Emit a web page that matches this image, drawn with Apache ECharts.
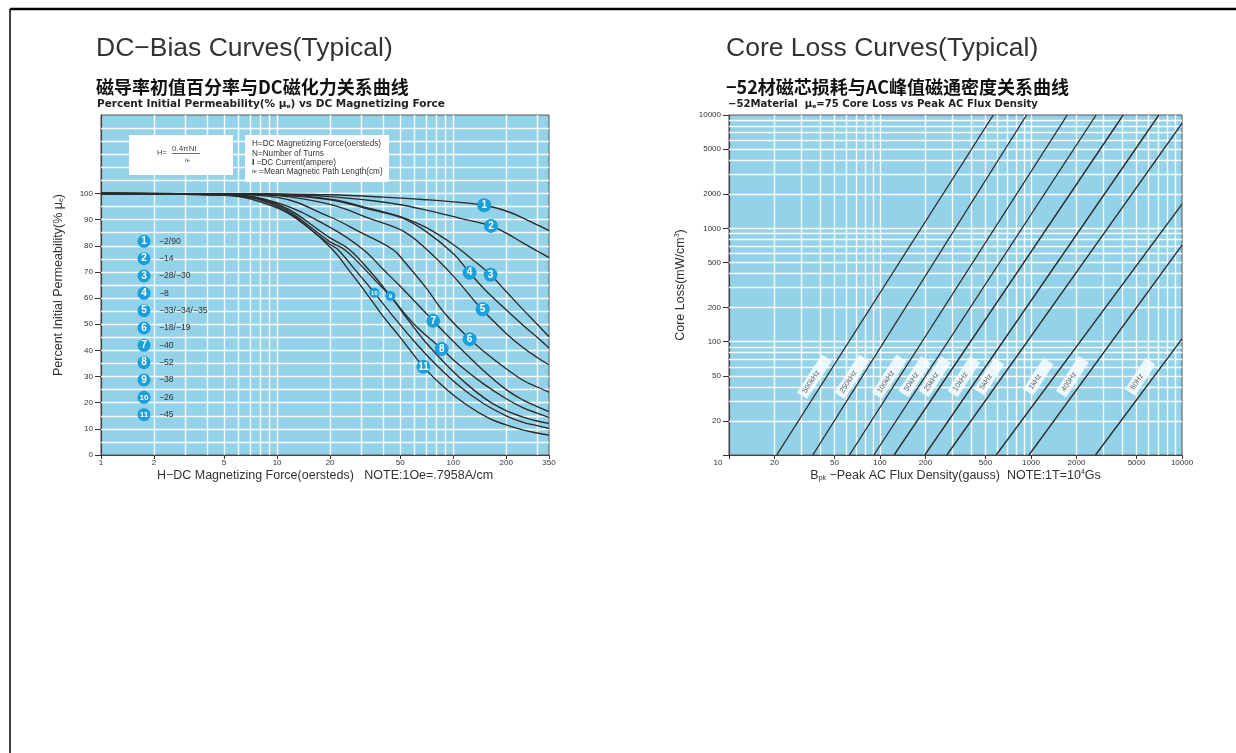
<!DOCTYPE html>
<html><head><meta charset="utf-8">
<script src="https://cdn.jsdelivr.net/npm/echarts@6/dist/echarts.min.js"></script>
<style>html,body{margin:0;padding:0;background:#fff;}#c{width:1236px;height:753px;}</style>
</head><body><div id="c"></div>
<script>
// ---------- DC-bias chart data ----------
const dcXTicks = [1, 2, 5, 10, 20, 50, 100, 200, 350];
const dcYTicks = [0, 10, 20, 30, 40, 50, 60, 70, 80, 90, 100];
const materials = ['\u22122/90', '\u221214', '\u221228/\u221230', '\u22128', '\u221233/\u221234/\u221235', '\u221218/\u221219', '\u221240', '\u221252', '\u221238', '\u221226', '\u221245'];
const curve1 = [[1,100],[5,99.9],[10,99.8],[20,99.5],[40,98.6],[70,97.6],[100,96.8],[150,95.5],[200,93.3],[250,90.6],[300,88],[350,85.8]];
const curve2 = [[1,100],[5,99.9],[10,99.7],[20,98.8],[35,97.2],[52,95.5],[80,92.8],[110,90.5],[164,87.6],[200,84.8],[250,81],[300,78],[350,75.5]];
const curve3 = [[1,100],[5,99.9],[10,99.5],[20,97.8],[35,94],[52,90.8],[70,87],[100,80.5],[130,74.5],[163,68.9],[200,62.5],[250,55.5],[300,50],[350,45.2]];
const curve4 = [[1,100],[5,99.9],[10,99.5],[20,97.6],[35,93.6],[52,90.5],[70,85.5],[100,77],[124,69.7],[150,63.5],[200,55.5],[250,49.5],[300,45],[350,40.9]];
const curve5 = [[1,100],[5,99.8],[10,99.2],[20,95.8],[35,90],[52,85.6],[71,78.5],[100,68.5],[145,55.8],[200,46.5],[250,41],[300,37.3],[350,34.5]];
const curve6 = [[1,100],[5,99.7],[10,98.5],[20,91],[30,85],[45.6,78.5],[52.7,74],[70,64],[90,54],[124,44.4],[150,39.5],[200,33],[250,28.5],[300,26],[350,24]];
const curve7 = [[1,100],[5,99.6],[10,96.5],[20,87],[30.9,78.5],[40,71],[50,64.5],[60,59],[77,51.3],[100,43.5],[150,32],[200,25],[250,21],[300,18.5],[350,16.6]];
const curve8 = [[1,100],[5,99.5],[10,96],[20,83],[25.8,78.5],[35,69],[45,60],[60,50],[86,40.6],[110,34],[150,27],[200,21.5],[250,18],[300,16],[350,14.4]];
const curve9 = [[1,100],[5,99.5],[10,95.5],[20,81.5],[24.2,78.5],[30,72.5],[37,66],[44,60.8],[55,52],[70,43],[90,35],[120,27],[160,20.5],[200,17],[250,14.5],[300,13],[350,12.1]];
const curve10 = [[1,100],[5,99.4],[10,95],[20,80.5],[22.2,78.5],[28,70.5],[35.7,62],[45,53.5],[60,43.5],[80,34.5],[110,26],[150,19.5],[200,15],[250,12.5],[300,11.2],[350,10.2]];
const curve11 = [[1,100],[5,99.3],[10,94.5],[15,87],[20.7,78.5],[26,70],[32,62],[40,53],[50,45],[67.8,33.7],[90,25.5],[120,19],[160,14],[200,11.5],[250,9.5],[300,8.4],[350,7.6]];
const dcCurves = [curve1, curve2, curve3, curve4, curve5, curve6, curve7, curve8, curve9, curve10, curve11];
const tagAt = [[150,95.5],[164,87.6],[163,68.9],[124,69.7],[147,55.7],[124,44.3],[77,51.3],[86,40.5],[44,60.8],[35.7,62],[67.8,33.7]];

// ---------- Core loss chart data ----------
const lossXTicks = [10, 20, 50, 100, 200, 500, 1000, 2000, 5000, 10000];
const lossYTicks = [10, 20, 50, 100, 200, 500, 1000, 2000, 5000, 10000];
const freqLabels = ['500kHz', '250kHz', '100kHz', '50kHz', '25kHz', '10kHz', '5kHz', '1kHz', '400Hz', '60Hz'];
const loss500k = [[20.7,10],[563,10000]];
const loss250k = [[35.9,10],[935,10000]];
const loss100k = [[62.8,10],[1738,10000]];
const loss50k = [[91,10],[2698,10000]];
const loss25k = [[124,10],[4080,10000]];
const loss10k = [[198,10],[7030,10000]];
const loss5k = [[277,10],[10000,8440]];
const loss1k = [[588,10],[10000,1637]];
const loss400 = [[970,10],[10000,711]];
const loss60 = [[2673,10],[10000,106]];
const lossLines = [loss500k, loss250k, loss100k, loss50k, loss25k, loss10k, loss5k, loss1k, loss400, loss60];
const freqLabelAt = [[36.8,49],[65,49],[115,49],[170,49],[231,49],[359,49],[529,49],[1119,49],[1879,49],[5297,49]];

// ---------- grid-line positions (axis helpers) ----------
function logMinors(from, to) {
  const out = [];
  for (let d = from; d < to; d *= 10) for (let k = 1; k < 10; k++) { const v = d * k; if (v > from && v < to) out.push(v); }
  return out;
}
const dcVGrid = logMinors(1, 350);
const dcHGrid = []; for (let v = 5; v < 130; v += 5) dcHGrid.push(v);
const lossGrid = logMinors(10, 10000);

const SANS = "'Liberation Sans', Arial, sans-serif";
const WIDE = "'DejaVu Sans', 'Liberation Sans', sans-serif";
const CJK = "'Noto Sans CJK SC', sans-serif";
const TAG = '#1a9fdb';
const BG = '#93d2e9';

const chart = echarts.init(document.getElementById('c'));

function gridLineSeries(xi, vLines, hLines) {
  return {
    type: 'line', xAxisIndex: xi, yAxisIndex: xi, data: [], silent: true, z: 1,
    markLine: {
      silent: true, symbol: 'none', z: 1, animation: false,
      label: { show: false }, emphasis: { disabled: true },
      lineStyle: { color: '#ffffff', width: 1.4, type: 'solid', opacity: 0.95 },
      data: vLines.map(v => ({ xAxis: v })).concat(hLines.map(v => ({ yAxis: v })))
    }
  };
}

const series = [gridLineSeries(0, dcVGrid, dcHGrid), gridLineSeries(1, lossGrid, lossGrid)];
dcCurves.forEach((c, i) => series.push({
  type: 'line', name: 'c' + (i + 1), xAxisIndex: 0, yAxisIndex: 0, data: c,
  smooth: 0.4, symbol: 'none', z: 3, lineStyle: { color: '#2b2b2b', width: 1.35 }
}));
series.push({
  type: 'scatter', xAxisIndex: 0, yAxisIndex: 0, z: 6,
  data: tagAt.map((p, i) => ({
    value: p, symbolSize: (i === 8 || i === 9) ? 10 : 14,
    label: { fontSize: (i === 8 || i === 9) ? 6 : 10 }
  })),
  itemStyle: { color: TAG, opacity: 1 },
  label: { show: true, position: 'inside', color: '#fff', fontWeight: 'bold', fontFamily: SANS,
    formatter: p => String(p.dataIndex + 1) }
});
lossLines.forEach((c, i) => series.push({
  type: 'line', name: freqLabels[i], xAxisIndex: 1, yAxisIndex: 1, data: c,
  symbol: 'none', z: 3, lineStyle: { color: '#2b2b2b', width: 1.35 }
}));
series.push({
  type: 'scatter', xAxisIndex: 1, yAxisIndex: 1, z: 6, symbolSize: 1,
  itemStyle: { color: 'rgba(0,0,0,0)' },
  data: freqLabelAt,
  label: { show: true, position: 'inside', rotate: 57, color: '#444', fontSize: 7.5, fontFamily: SANS,
    backgroundColor: '#ffffff', padding: [2, 16, 2, 4],
    formatter: p => freqLabels[p.dataIndex] }
});

const axisCommon = {
  axisLine: { show: true, onZero: false, lineStyle: { color: '#444', width: 1.2 } },
  splitLine: { show: false },
  nameLocation: 'middle'
};

const subRich = {
  sub: { fontSize: 7, verticalAlign: 'bottom', color: '#333', fontFamily: SANS, padding: [4, 0, 0, 0] },
  sup: { fontSize: 7, verticalAlign: 'top', color: '#333', fontFamily: SANS, padding: [0, 0, 4, 0] },
  l10: { padding: [0, 22, 0, 0] }
};
const nameStyle = { color: '#333', fontSize: 12.5, fontFamily: SANS, rich: subRich };

const option = {
  animation: false,
  grid: [
    { left: 101, top: 115, width: 448, height: 340, show: true, backgroundColor: BG, borderColor: '#555', borderWidth: 1 },
    { left: 729, top: 115, width: 453, height: 340, show: true, backgroundColor: BG, borderColor: '#555', borderWidth: 1 }
  ],
  xAxis: [
    Object.assign({}, axisCommon, {
      type: 'log', logBase: 10, min: 1, max: 350, gridIndex: 0,
      axisTick: { show: true, length: 4, customValues: dcXTicks, lineStyle: { color: '#333' } },
      axisLabel: { customValues: dcXTicks, fontSize: 8, color: '#333', margin: 4, fontFamily: SANS },
      name: 'H\u2212DC Magnetizing Force(oersteds)   NOTE:1Oe=.7958A/cm', nameGap: 14,
      nameTextStyle: nameStyle
    }),
    Object.assign({}, axisCommon, {
      type: 'log', logBase: 10, min: 10, max: 10000, gridIndex: 1,
      axisTick: { show: true, length: 4, customValues: lossXTicks, lineStyle: { color: '#333' } },
      axisLabel: { customValues: lossXTicks, fontSize: 8, color: '#333', margin: 4, fontFamily: SANS,
        formatter: v => (v === 10 ? '{l10|10}' : String(v)), rich: subRich },
      name: 'B{sub|pk} \u2212Peak AC Flux Density(gauss)  NOTE:1T=10{sup|4}Gs', nameGap: 14,
      nameTextStyle: nameStyle
    })
  ],
  yAxis: [
    Object.assign({}, axisCommon, {
      type: 'value', min: 0, max: 130, interval: 10, gridIndex: 0,
      axisTick: { show: true, length: 6, customValues: dcYTicks, lineStyle: { color: '#333' } },
      axisLabel: { customValues: dcYTicks, fontSize: 8, color: '#333', margin: 8, fontFamily: SANS },
      name: 'Percent Initial Permeability(% \u03bc{sub|e})', nameGap: 36,
      nameTextStyle: nameStyle
    }),
    Object.assign({}, axisCommon, {
      type: 'log', logBase: 10, min: 10, max: 10000, gridIndex: 1,
      axisTick: { show: true, length: 6, customValues: lossYTicks, lineStyle: { color: '#333' } },
      axisLabel: { customValues: lossYTicks, fontSize: 8, color: '#333', margin: 8, fontFamily: SANS,
        formatter: v => (v === 10 ? '' : String(v)) },
      name: 'Core Loss(mW/cm{sup|3})', nameGap: 42,
      nameTextStyle: nameStyle
    })
  ],
  series: series,
  graphic: []
};

// ---------- titles, frame, legend, formula boxes ----------
const g = option.graphic;
g.push({ type: 'line', shape: { x1: 10, y1: 9, x2: 1236, y2: 9 }, style: { stroke: '#000', lineWidth: 2.5 } });
g.push({ type: 'line', shape: { x1: 10, y1: 9, x2: 10, y2: 753 }, style: { stroke: '#000', lineWidth: 1.5 } });

function txt(x, y, text, font, extra) {
  return { type: 'text', x: x, y: y, z: 10, style: Object.assign({ text: text, font: font, fill: '#222', textVerticalAlign: 'middle' }, extra || {}) };
}
const richSmall = {
  s: { fontSize: 6, fontFamily: WIDE, fontWeight: 'bold', fill: '#222', verticalAlign: 'bottom', padding: [3, 0, 0, 0] }
};
g.push(txt(96, 49, 'DC\u2212Bias Curves(Typical)', '26.5px ' + SANS, { fill: '#333' }));
g.push(txt(96, 87, '磁导率初值百分率与DC磁化力关系曲线', 'bold 18px ' + CJK, { fill: '#111' }));
g.push(txt(97, 104, 'Percent Initial Permeability(% \u03bc{s|e}) vs DC Magnetizing Force', 'bold 10.5px ' + WIDE, { rich: richSmall }));
g.push(txt(726, 49, 'Core Loss Curves(Typical)', '26.5px ' + SANS, { fill: '#333' }));
g.push(txt(726, 87, '\u221252材磁芯损耗与AC峰值磁通密度关系曲线', 'bold 18px ' + CJK, { fill: '#111' }));
g.push(txt(728, 104, '\u221252Material  \u03bc{s|e}=75 Core Loss vs Peak AC Flux Density', 'bold 10.1px ' + WIDE, { rich: richSmall }));

// formula boxes
g.push({ type: 'rect', z: 8, shape: { x: 129, y: 135, width: 104, height: 40 }, style: { fill: '#fff' } });
g.push({ type: 'rect', z: 8, shape: { x: 245, y: 135, width: 144, height: 47 }, style: { fill: '#fff' } });
g.push(txt(157, 153, 'H=', '7.5px ' + SANS, { fill: '#444' }));
g.push(txt(172, 149, '0.4\u03c0NI', '8px ' + SANS, { fill: '#444' }));
g.push({ type: 'line', z: 10, shape: { x1: 172, y1: 153.5, x2: 200, y2: 153.5 }, style: { stroke: '#444', lineWidth: 0.8 } });
g.push(txt(185, 160, '\u2113e', '5.5px ' + SANS, { fill: '#444' }));
const defs = ['H=DC Magnetizing Force(oersteds)', 'N=Number of Turns', '{b|I} =DC Current(ampere)', '{t|\u2113e} =Mean Magnetic Path Length(cm)'];
defs.forEach((d, i) => g.push(txt(252, 144 + i * 9.3, d, '8.2px ' + SANS, { fill: '#333',
  rich: { b: { fontWeight: 'bold', fontSize: 8.5, fontFamily: SANS, fill: '#111' }, t: { fontSize: 5.5, fontFamily: SANS, fill: '#333' } } })));

// legend
materials.forEach((m, i) => {
  const y = 241.3 + i * 17.34;
  g.push({ type: 'circle', z: 9, shape: { cx: 144, cy: y, r: 6.5 }, style: { fill: TAG } });
  g.push({ type: 'text', z: 10, x: 144, y: y, style: { text: String(i + 1), font: 'bold ' + (i >= 9 ? 8 : 10) + 'px ' + SANS, fill: '#fff', textAlign: 'center', textVerticalAlign: 'middle' } });
  g.push(txt(159, y, m, '8.6px ' + SANS, { fill: '#333' }));
});

chart.setOption(option);
</script></body></html>
